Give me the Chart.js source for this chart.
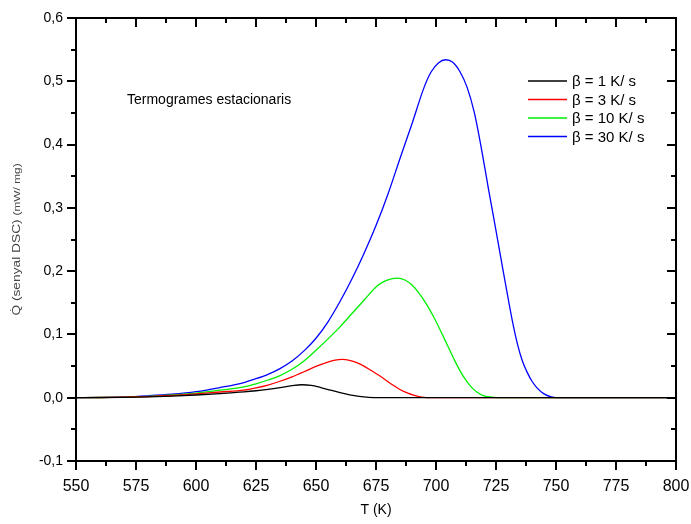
<!DOCTYPE html>
<html>
<head>
<meta charset="utf-8">
<script src="https://cdn.jsdelivr.net/npm/chart.js@4/dist/chart.umd.min.js"></script>
<style>
  html, body { margin: 0; padding: 0; background: #fff; }
  #wrap { width: 691px; height: 524px; }
</style>
</head>
<body>
<div id="wrap"><canvas id="c" width="691" height="524"></canvas></div>
<script>
// ---- data ----
const seriesLabels = ['β = 1 K/ s', 'β = 3 K/ s', 'β = 10 K/ s', 'β = 30 K/ s'];
const seriesColors = ['#000000', '#ff0000', '#00ee00', '#0000ff'];

const t1 = [550, 560, 570, 580, 590, 600, 610, 620, 625, 630, 635, 640, 644, 648, 652, 656, 660, 664, 668, 672, 676, 800];
const q1 = [0, 0.0002, 0.0006, 0.0013, 0.0025, 0.0043, 0.0065, 0.0092, 0.011, 0.0133, 0.016, 0.019, 0.0205, 0.0195, 0.016, 0.012, 0.008, 0.0045, 0.002, 0.0005, 0, 0];

const t3 = [550, 560, 570, 580, 590, 600, 610, 620, 625, 630, 635, 640, 645, 650, 655, 658, 661, 664, 667, 670, 673, 676, 679, 682, 685, 688, 691, 694, 698, 800];
const q3 = [0, 0.0003, 0.0008, 0.0018, 0.0035, 0.006, 0.009, 0.012, 0.0155, 0.02, 0.026, 0.033, 0.041, 0.0495, 0.0562, 0.0595, 0.0605, 0.059, 0.0555, 0.05, 0.043, 0.036, 0.028, 0.02, 0.013, 0.0075, 0.0035, 0.001, 0, 0];

const t10 = [550, 560, 570, 580, 590, 600, 610, 620, 625, 630, 635, 640, 645, 650, 655, 660, 665, 670, 675, 678, 681, 684, 687, 690, 693, 696, 699, 702, 705, 708, 711, 714, 717, 720, 724, 728, 800];
const q10 = [0, 0.0003, 0.001, 0.0022, 0.0045, 0.0074, 0.012, 0.017, 0.022, 0.028, 0.035, 0.045, 0.058, 0.075, 0.093, 0.112, 0.133, 0.154, 0.175, 0.183, 0.1875, 0.189, 0.186, 0.178, 0.165, 0.148, 0.128, 0.105, 0.081, 0.057, 0.036, 0.02, 0.009, 0.003, 0.0005, 0, 0];

const t30 = [550, 560, 570, 580, 590, 600, 610, 620, 625, 630, 635, 640, 645, 650, 655, 660, 665, 670, 675, 680, 685, 690, 695, 698, 701, 704, 707, 710, 713, 716, 719, 722, 725, 728, 730, 732, 734, 736, 738, 740, 742, 745, 748, 752, 800];
const q30 = [0, 0.0004, 0.0012, 0.003, 0.0055, 0.0095, 0.016, 0.024, 0.030, 0.037, 0.046, 0.058, 0.074, 0.094, 0.12, 0.152, 0.188, 0.228, 0.272, 0.322, 0.378, 0.433, 0.49, 0.515, 0.529, 0.534, 0.530, 0.515, 0.49, 0.45, 0.392, 0.327, 0.264, 0.2, 0.158, 0.118, 0.084, 0.058, 0.04, 0.026, 0.016, 0.006, 0.0015, 0, 0];

const xTicksMin = 550, xTicksMax = 800, xStep = 25;
const yTicksMin = -0.1, yTicksMax = 0.6, yStep = 0.1;

const xTitle = 'T (K)';
const yTitleMain = 'Q\u0307 (senyal DSC) ';
const yTitleUnit = '(mW/ mg)';
const annotationText = 'Termogrames estacionaris';

// ---- build datasets ----
const allT = [t1, t3, t10, t30];
const allQ = [q1, q3, q10, q30];
const datasets = allT.map((ts, i) => ({
  label: seriesLabels[i],
  data: ts.map((t, j) => ({ x: t, y: allQ[i][j] })),
  borderColor: seriesColors[i],
  backgroundColor: seriesColors[i],
  borderWidth: 1.3,
  pointRadius: 0,
  fill: false,
  cubicInterpolationMode: 'monotone'
}));

const FONT = '"Liberation Sans", Arial, sans-serif';

const framePlugin = {
  id: 'frame',
  afterDraw(chart) {
    const ctx = chart.ctx;
    const a = chart.chartArea;
    const xs = chart.scales.x, ys = chart.scales.y;
    ctx.save();
    ctx.strokeStyle = '#000';
    ctx.lineWidth = 2;
    ctx.strokeRect(a.left, a.top, a.right - a.left, a.bottom - a.top);
    ctx.beginPath();
    const nX = Math.round((xTicksMax - xTicksMin) / (xStep / 2));
    for (let k = 0; k <= nX; k++) {
      const v = xTicksMin + k * xStep / 2;
      const px = Math.round(xs.getPixelForValue(v));
      const len = (k % 2 === 0) ? 9 : 5;
      ctx.moveTo(px, a.bottom); ctx.lineTo(px, a.bottom + len);
      ctx.moveTo(px, a.top); ctx.lineTo(px, a.top + len);
    }
    const nY = Math.round((yTicksMax - yTicksMin) / (yStep / 2));
    for (let k = 0; k <= nY; k++) {
      const v = yTicksMin + k * yStep / 2;
      const py = Math.round(ys.getPixelForValue(v));
      const len = (k % 2 === 0) ? 9 : 5;
      ctx.moveTo(a.left - len, py); ctx.lineTo(a.left, py);
      ctx.moveTo(a.right - len, py); ctx.lineTo(a.right, py);
    }
    ctx.stroke();

    // annotation text
    ctx.fillStyle = '#000';
    ctx.font = '14px ' + FONT;
    ctx.textBaseline = 'alphabetic';
    ctx.textAlign = 'left';
    ctx.fillText(annotationText, 127, 104);

    // legend
    ctx.font = '15px ' + FONT;
    const rows = [81, 99.5, 118, 136.5];
    chart.data.datasets.forEach((ds, i) => {
      ctx.strokeStyle = ds.borderColor;
      ctx.lineWidth = 1.3;
      ctx.beginPath();
      ctx.moveTo(528, rows[i]); ctx.lineTo(567, rows[i]);
      ctx.stroke();
      ctx.fillStyle = '#000';
      ctx.fillText(ds.label, 572, rows[i] + 5);
    });

    // y axis title (rotated, stretched text)
    ctx.save();
    ctx.translate(20, (a.top + a.bottom) / 2);
    ctx.rotate(-Math.PI / 2);
    ctx.scale(1.25, 1);
    ctx.fillStyle = '#444';
    ctx.textBaseline = 'alphabetic';
    ctx.font = '11px ' + FONT;
    const w1 = ctx.measureText(yTitleMain).width;
    ctx.font = '9.5px ' + FONT;
    const w2 = ctx.measureText(yTitleUnit).width;
    const start = -(w1 + w2) / 2;
    ctx.font = '11px ' + FONT;
    ctx.textAlign = 'left';
    ctx.fillText(yTitleMain, start, 0);
    ctx.font = '9.5px ' + FONT;
    ctx.fillText(yTitleUnit, start + w1, 0);
    ctx.restore();

    ctx.restore();
  }
};

new Chart(document.getElementById('c'), {
  type: 'line',
  data: { datasets },
  options: {
    responsive: false,
    animation: false,
    events: [],
    layout: { padding: { top: 18, right: 15, left: 0, bottom: 0 } },
    plugins: { legend: { display: false }, tooltip: { enabled: false } },
    scales: {
      x: {
        type: 'linear',
        min: xTicksMin, max: xTicksMax,
        afterFit: s => { s.height = 63; s.paddingLeft = 0; s.paddingRight = 0; },
        grid: { display: false, drawTicks: false },
        border: { display: false },
        ticks: {
          stepSize: xStep, padding: 16, color: '#000', maxRotation: 0,
          font: { family: FONT, size: 16 },
          callback: v => String(v)
        },
        title: {
          display: true, text: xTitle, color: '#000',
          font: { family: FONT, size: 14 },
          padding: { top: 0, bottom: 5 }
        }
      },
      y: {
        type: 'linear',
        min: yTicksMin, max: yTicksMax,
        afterFit: s => { s.width = 76; s.paddingTop = 0; s.paddingBottom = 0; },
        grid: { display: false, drawTicks: false },
        border: { display: false },
        ticks: {
          stepSize: yStep, padding: 13, color: '#000',
          font: { family: FONT, size: 14 },
          callback: v => (Math.round(v * 10) / 10).toFixed(1).replace('.', ',')
        }
      }
    }
  },
  plugins: [framePlugin]
});
</script>
</body>
</html>
